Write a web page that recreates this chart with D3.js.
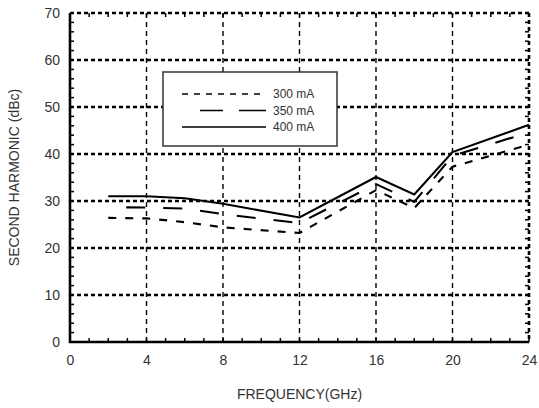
<!DOCTYPE html>
<html>
<head>
<meta charset="utf-8">
<script src="https://cdn.jsdelivr.net/npm/d3@7"></script>
<style>
  body { margin: 0; background: #fff; }
  svg { font-family: "Liberation Sans", Arial, sans-serif; }
</style>
</head>
<body>
<svg width="539" height="408"></svg>
<script>
// values
var freq = [2, 4, 6, 8, 12, 16, 18, 20, 24];
var ma300 = [26.4, 26.3, 25.5, 24.4, 23.2, 32.3, 28.5, 37.3, 42.0];
var ma350 = [28.7, 28.6, 28.4, 27.2, 25.3, 33.6, 29.8, 39.6, 44.6];
var ma400 = [31.0, 31.0, 30.6, 29.4, 26.5, 35.1, 31.4, 40.4, 46.2];
var seriesNames = ["300 mA", "350 mA", "400 mA"];
var xTicks = [0, 4, 8, 12, 16, 20, 24];
var yTicks = [0, 10, 20, 30, 40, 50, 60, 70];

var svg = d3.select("svg");
var pLeft = 70, pRight = 529, pTop = 13, pBottom = 342;

var x = d3.scaleLinear().domain([0, 24]).range([pLeft, pRight]);
var y = d3.scaleLinear().domain([0, 70]).range([pBottom, pTop]);

var g = svg.append("g");

// vertical grid (thin dashed)
g.selectAll(".vgrid")
  .data(xTicks.slice(1, -1))
  .enter().append("line")
  .attr("x1", d => x(d)).attr("x2", d => x(d))
  .attr("y1", pTop).attr("y2", pBottom)
  .attr("stroke", "#000").attr("stroke-width", 1.4)
  .attr("stroke-dasharray", "5,4");

// horizontal grid (heavy dotted)
g.selectAll(".hgrid")
  .data(yTicks.slice(1))
  .enter().append("line")
  .attr("x1", pLeft).attr("x2", pRight)
  .attr("y1", d => y(d)).attr("y2", d => y(d))
  .attr("stroke", "#000").attr("stroke-width", 2.6)
  .attr("stroke-dasharray", "4,3");

// right edge dotted like the grid
g.append("line")
  .attr("x1", pRight).attr("x2", pRight)
  .attr("y1", pTop).attr("y2", pBottom)
  .attr("stroke", "#000").attr("stroke-width", 2.6)
  .attr("stroke-dasharray", "4,3");

// minor ticks
var xMinor = d3.range(0, 25, 1);
var yMinor = d3.range(0, 71, 2);
g.selectAll(".xmb").data(xMinor).enter().append("line")
  .attr("x1", d => x(d)).attr("x2", d => x(d))
  .attr("y1", pBottom).attr("y2", pBottom - 4)
  .attr("stroke", "#000").attr("stroke-width", 1.5);
g.selectAll(".xmt").data(xMinor).enter().append("line")
  .attr("x1", d => x(d)).attr("x2", d => x(d))
  .attr("y1", pTop).attr("y2", pTop + 4)
  .attr("stroke", "#000").attr("stroke-width", 1.5);
g.selectAll(".yml").data(yMinor).enter().append("line")
  .attr("x1", pLeft).attr("x2", pLeft + 4)
  .attr("y1", d => y(d)).attr("y2", d => y(d))
  .attr("stroke", "#000").attr("stroke-width", 1.5);
g.selectAll(".ymr").data(yMinor).enter().append("line")
  .attr("x1", pRight).attr("x2", pRight - 4)
  .attr("y1", d => y(d)).attr("y2", d => y(d))
  .attr("stroke", "#000").attr("stroke-width", 1.5);

// left and bottom frame
g.append("path")
  .attr("d", "M" + pLeft + "," + pTop + "V" + pBottom + "H" + pRight)
  .attr("fill", "none").attr("stroke", "#000").attr("stroke-width", 2.6);

// axes labels
var xAxis = d3.axisBottom(x).tickValues(xTicks).tickSize(0).tickPadding(13);
var yAxis = d3.axisLeft(y).tickValues(yTicks).tickSize(0).tickPadding(10);
svg.append("g").attr("transform", "translate(0," + pBottom + ")").call(xAxis)
  .call(s => s.select(".domain").remove())
  .selectAll("text").attr("font-size", 14).attr("fill", "#333")
  .attr("font-family", "Liberation Sans, Arial, sans-serif");
svg.append("g").attr("transform", "translate(" + pLeft + ",0)").call(yAxis)
  .call(s => s.select(".domain").remove())
  .selectAll("text").attr("font-size", 14).attr("fill", "#333")
  .attr("font-family", "Liberation Sans, Arial, sans-serif");

svg.append("text")
  .attr("x", (pLeft + pRight) / 2).attr("y", 399)
  .attr("text-anchor", "middle").attr("font-size", 14).attr("fill", "#333")
  .text("FREQUENCY(GHz)");
svg.append("text")
  .attr("transform", "translate(19," + ((pTop + pBottom) / 2) + ") rotate(-90)")
  .attr("text-anchor", "middle").attr("font-size", 14).attr("fill", "#333")
  .text("SECOND HARMONIC (dBc)");

// data lines
var dashes = ["8,9", "19,18", null];
var allSeries = [ma300, ma350, ma400];
var line = d3.line().x((d, i) => x(freq[i])).y(d => y(d));
allSeries.forEach(function(vals, k) {
  svg.append("path")
    .datum(vals)
    .attr("d", line)
    .attr("fill", "none").attr("stroke", "#000")
    .attr("stroke-width", 2.1)
    .attr("stroke-dasharray", dashes[k])
    .attr("stroke-dashoffset", k == 1 ? 19 : 0);
});

// legend
var leg = svg.append("g");
leg.append("rect")
  .attr("x", 163).attr("y", 72).attr("width", 174).attr("height", 74)
  .attr("fill", "#fff").attr("stroke", "#333").attr("stroke-width", 1.5);
seriesNames.forEach(function(name, k) {
  var yy = 94 + k * 16.5;
  leg.append("line")
    .attr("x1", 182).attr("x2", 266).attr("y1", yy).attr("y2", yy)
    .attr("stroke", "#000").attr("stroke-width", 1.6)
    .attr("stroke-dasharray", k == 0 ? "6,6" : (k == 1 ? "0,18,23,16,23" : null));
  leg.append("text")
    .attr("x", 273).attr("y", yy + 4)
    .attr("font-size", 12).attr("fill", "#333")
    .text(name);
});
</script>
</body>
</html>
